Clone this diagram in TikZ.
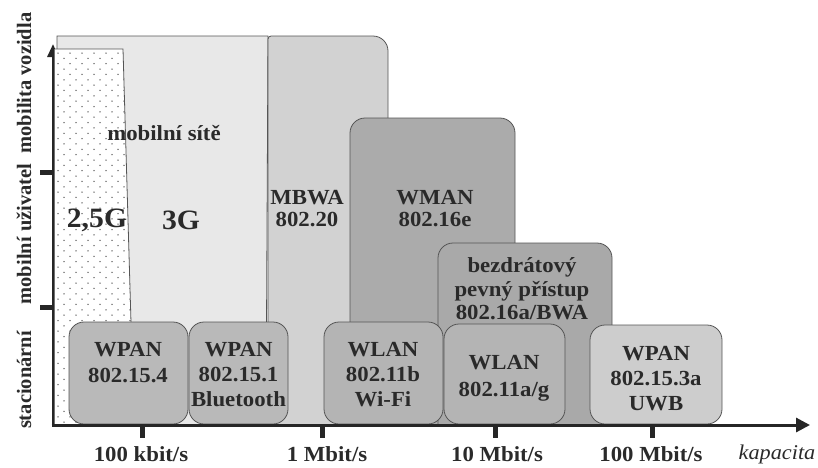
\documentclass[tikz,border=0pt]{standalone}
\usepackage{fontspec}
\setmainfont{Liberation Serif}
\newfontfamily\widefont{Liberation Serif}[FakeStretch=1.06]
\usetikzlibrary{arrows.meta}
\definecolor{mobc}{HTML}{E8E8E8}
\definecolor{mbwac}{HTML}{D2D2D2}
\definecolor{wmanc}{HTML}{ABABAB}
\definecolor{bwac}{HTML}{A9A9A9}
\definecolor{wpanc}{HTML}{B9B9B9}
\definecolor{wlanc}{HTML}{B4B4B4}
\definecolor{uwbc}{HTML}{CDCDCD}
\definecolor{edgec}{HTML}{555555}
\definecolor{textc}{HTML}{2A2A2A}
\definecolor{axisc}{HTML}{262626}
\definecolor{dotc}{HTML}{555555}
\begin{document}
\begin{tikzpicture}[x=1pt,y=-1pt,
  edge/.style={draw=edgec, line width=0.8pt},
  box/.style={edge, rounded corners=15pt},
  lbl/.style={font=\widefont\bfseries\fontsize{21.5}{25}\selectfont, align=center, text=textc, inner sep=0pt},
  axl/.style={font=\bfseries\fontsize{20.5}{24}\selectfont, text=textc, inner sep=0pt},
  xl/.style={font=\widefont\bfseries\fontsize{21.5}{24}\selectfont, text=textc, inner sep=0pt},
  tickmark/.style={line width=5pt, draw=axisc},
  axisline/.style={line width=3pt, draw=axisc}]
\useasboundingbox (0,0) rectangle (818,467);
\coordinate (orig) at (53,425);
\coordinate (ytop) at (53,44);
\coordinate (xorig) at (51.5,425);
\coordinate (xend) at (810,425);
% y axis
\draw[axisline, -{Triangle[length=13pt,width=11pt]}] (orig) -- (ytop);
% mobile networks region (3G)
\fill[mobc] (57,36) -- (268,36) -- (266,425) -- (57,425) -- cycle;
\draw[edge] (57,49) -- (57,36) -- (268,36) -- (266,425);
% 2.5G dotted region
\fill[white] (54.6,49) -- (123,49) -- (134,425) -- (54.6,425) -- cycle;
\begin{scope}
  \clip (54.6,49) -- (123,49) -- (134,425) -- (54.6,425) -- cycle;
  \foreach \j in {0,...,70} {
    \foreach \i in {0,...,7} {
      \fill[dotc] ({58+12*\i+6*mod(\j,2)}, {53+5.35*\j}) circle (0.75);
    }
  }
\end{scope}
\draw[edge] (54.6,49) -- (123,49) -- (134,425);
% tall rounded regions
\begin{scope}
  \clip (0,0) rectangle (818,425);
  \filldraw[edge, fill=mbwac] (268,460) -- (268,39) arc[start angle=180, end angle=270, radius=3] -- (373,36) arc[start angle=-90, end angle=0, radius=15] -- (388,460);
  \draw[box, fill=wmanc] (350,118) rectangle (515,470);
  \draw[box, fill=bwac] (438,243) rectangle (612,470);
\end{scope}
% bottom boxes
\draw[box, fill=wpanc] (69,322) rectangle (188,424);
\draw[box, fill=wpanc] (189,322) rectangle (288,424);
\draw[box, fill=wlanc] (324,322) rectangle (443,424);
\draw[box, fill=wlanc] (444,324) rectangle (565,424);
\draw[box, fill=uwbc] (590,325) rectangle (722,424);
% x axis
\draw[axisline, -{Triangle[length=14pt,width=14pt]}] (xorig) -- (xend);
% ticks
\draw[tickmark] (40,307) -- (53,307);
\draw[tickmark] (40,172) -- (53,172);
\draw[tickmark] (142,426) -- (142,438);
\draw[tickmark] (322,426) -- (322,438);
\draw[tickmark] (495,426) -- (495,438);
\draw[tickmark] (652,426) -- (652,438);
% region labels
\node[lbl] (tmob) at (164,133) {mobilní sítě};
\node[lbl, font=\widefont\bfseries\fontsize{28}{30}\selectfont] (t25g) at (97,220) {2,5G};
\node[lbl, font=\widefont\bfseries\fontsize{28}{30}\selectfont] (t3g) at (181,220) {3G};
\node[lbl, font=\widefont\bfseries\fontsize{21.5}{22}\selectfont] (tmbwa) at (307,209) {MBWA\\802.20};
\node[lbl, font=\widefont\bfseries\fontsize{21.5}{22}\selectfont] (twman) at (435,209) {WMAN\\802.16e};
\node[lbl, font=\widefont\bfseries\fontsize{21.5}{23.5}\selectfont] (tbwa) at (522,289) {bezdrátový\\pevný přístup\\802.16a/BWA};
\node[lbl, font=\widefont\bfseries\fontsize{21.5}{26}\selectfont] (tp1) at (128,363) {WPAN\\802.15.4};
\node[lbl] (tp2) at (238.5,375) {WPAN\\802.15.1\\Bluetooth};
\node[lbl] (tl1) at (383,375) {WLAN\\802.11b\\Wi-Fi};
\node[lbl, font=\widefont\bfseries\fontsize{21.5}{27}\selectfont] (tl2) at (504,378) {WLAN\\802.11a/g};
\node[lbl] (tuwb) at (656,379) {WPAN\\802.15.3a\\UWB};
% axis labels
\node[axl, rotate=90] (ystat) at (24,380) {stacionární};
\node[axl, rotate=90] (ymob) at (24,234) {mobilní uživatel};
\node[axl, rotate=90] (yveh) at (24,83) {mobilita vozidla};
\node[xl] (x1) at (141,454) {100 kbit/s};
\node[xl] (x2) at (327,454) {1 Mbit/s};
\node[xl] (x3) at (497,454) {10 Mbit/s};
\node[xl] (x4) at (651,454) {100 Mbit/s};
\node[xl, font=\widefont\itshape\fontsize{21}{24}\selectfont] (xcap) at (777,454) {kapacita};
\end{tikzpicture}
\end{document}
